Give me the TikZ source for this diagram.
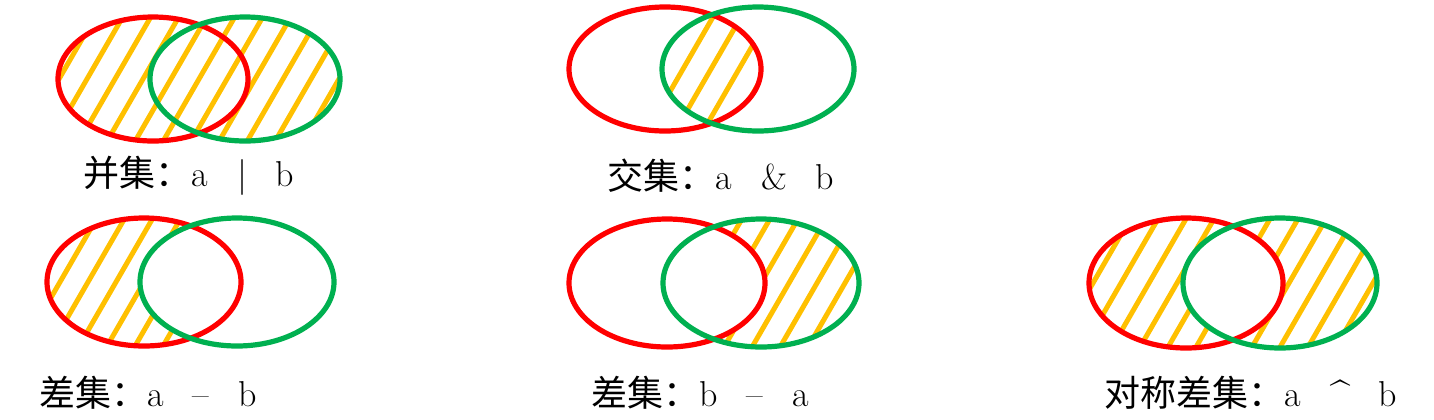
\documentclass[tikz,border=0pt]{standalone}
\usepackage{fontspec}
\newfontfamily\cjk{Noto Sans CJK SC}
\definecolor{setred}{RGB}{255,0,0}
\definecolor{setgreen}{RGB}{0,176,80}
\definecolor{hatchgold}{RGB}{255,192,0}

% hatch lines around a centre (x, y), clipped by the caller
\newcommand{\hatchfill}[2]{%
  \foreach \k in {-10,...,10}
    \draw[hatch] ({#1+\k*28-75},{#2+130}) -- ++(150,-260);
}

\begin{document}
\begin{tikzpicture}[x=0.5pt, y=-0.5pt,
    seta/.style={draw=setred, line width=2.6pt},
    setb/.style={draw=setgreen, line width=2.6pt},
    hatch/.style={draw=hatchgold, line width=2.5pt, line cap=round},
    caption/.style={font=\fontsize{18}{21}\selectfont, inner sep=0pt}]
    \useasboundingbox (0,0) rectangle (1434,419);

    % union
    \coordinate (una) at (153,79);
    \coordinate (unb) at (245,79);
    \begin{scope}
        \clip (una) ellipse [x radius=95, y radius=62] (unb) ellipse [x radius=95, y radius=62];
        \hatchfill{199}{79}
    \end{scope}
    \draw[seta] (una) ellipse [x radius=95, y radius=62];
    \draw[setb] (unb) ellipse [x radius=95, y radius=62];
    \node[caption] (unlabel) at (189,176) {{\cjk 并集：}a\hspace{0.8em}|\hspace{0.8em}b};

    % intersection
    \coordinate (inta) at (665,69);
    \coordinate (intb) at (758,69);
    \begin{scope}
        \clip (inta) ellipse [x radius=96, y radius=62];
        \clip (intb) ellipse [x radius=96, y radius=62];
        \hatchfill{711}{69}
    \end{scope}
    \draw[seta] (inta) ellipse [x radius=96, y radius=62];
    \draw[setb] (intb) ellipse [x radius=96, y radius=62];
    \node[caption] (intlabel) at (721,176) {{\cjk 交集：}a\hspace{0.8em}\&\hspace{0.8em}b};

    % a - b
    \coordinate (aba) at (144,282);
    \coordinate (abb) at (237,282);
    \begin{scope}[even odd rule]
        \clip (aba) ellipse [x radius=97, y radius=64];
        \clip (abb) ellipse [x radius=97, y radius=64] (0,0) rectangle (1434,419);
        \hatchfill{144}{282}
    \end{scope}
    \draw[seta] (aba) ellipse [x radius=97, y radius=64];
    \draw[setb] (abb) ellipse [x radius=97, y radius=64];
    \node[caption] (ablabel) at (148,393) {{\cjk 差集：}a\hspace{0.8em}--\hspace{0.8em}b};

    % b - a
    \coordinate (baa) at (667,283);
    \coordinate (bab) at (761,283);
    \begin{scope}[even odd rule]
        \clip (bab) ellipse [x radius=98, y radius=64];
        \clip (baa) ellipse [x radius=98, y radius=64] (0,0) rectangle (1434,419);
        \hatchfill{761}{283}
    \end{scope}
    \draw[seta] (baa) ellipse [x radius=98, y radius=64];
    \draw[setb] (bab) ellipse [x radius=98, y radius=64];
    \node[caption] (balabel) at (700,393) {{\cjk 差集：}b\hspace{0.8em}--\hspace{0.8em}a};

    % symmetric difference
    \coordinate (syma) at (1186,283);
    \coordinate (symb) at (1280,283);
    \begin{scope}[even odd rule]
        \clip (syma) ellipse [x radius=97, y radius=65] (symb) ellipse [x radius=97, y radius=65];
        \hatchfill{1233}{283}
    \end{scope}
    \draw[seta] (syma) ellipse [x radius=97, y radius=65];
    \draw[setb] (symb) ellipse [x radius=97, y radius=65];
    \node[caption] (symlabel) at (1251,393) {{\cjk 对称差集：}a\hspace{0.8em}\textasciicircum\hspace{0.8em}b};
\end{tikzpicture}
\end{document}
